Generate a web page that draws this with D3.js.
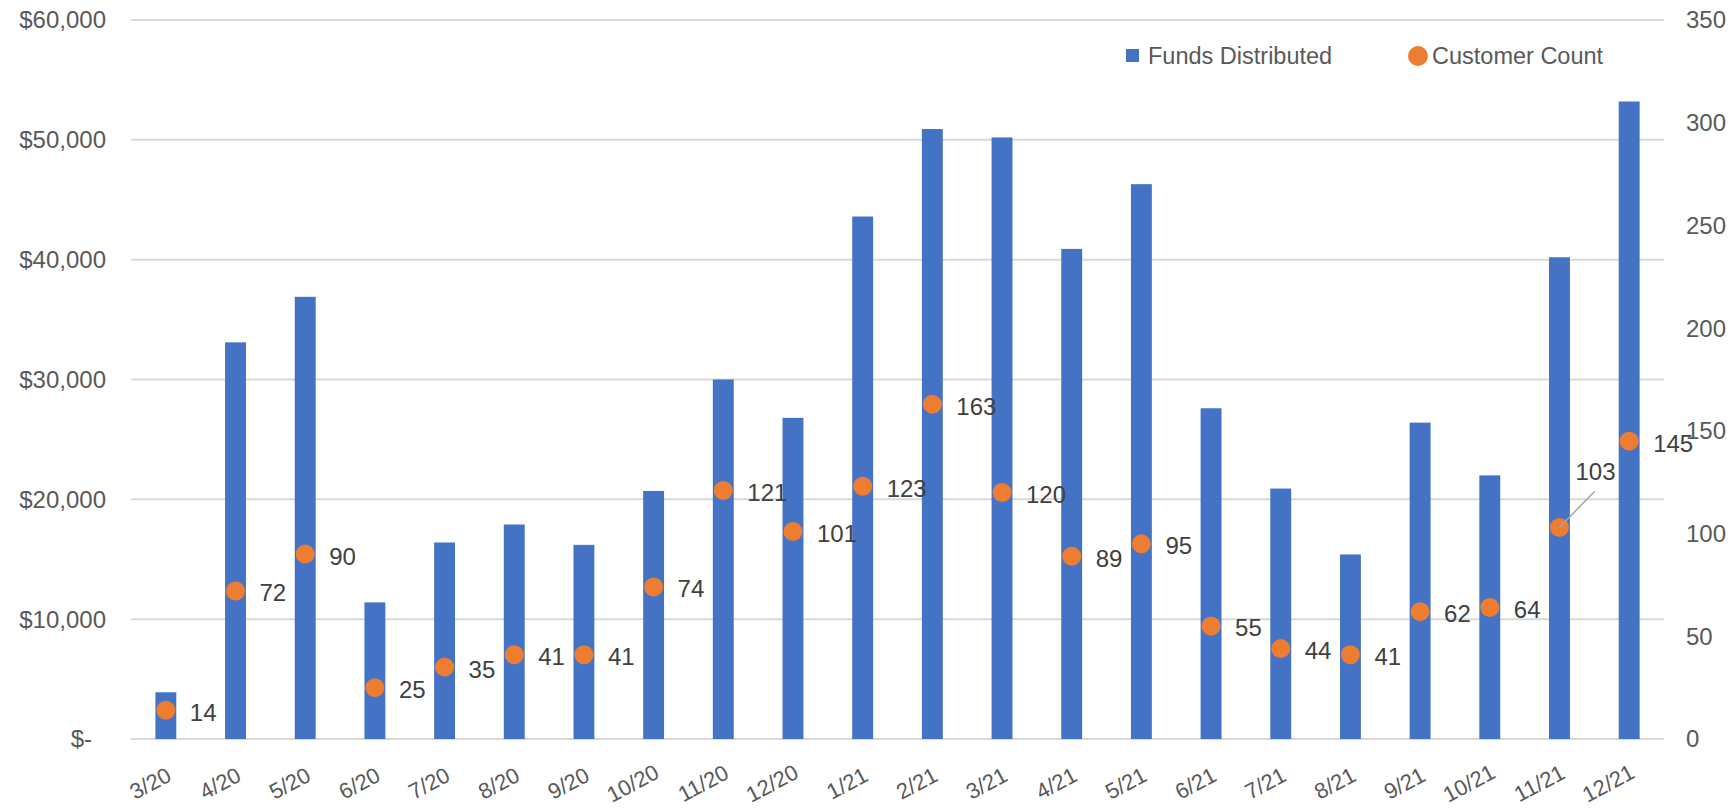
<!DOCTYPE html>
<html>
<head>
<meta charset="utf-8">
<script src="https://cdn.jsdelivr.net/npm/d3@7"></script>
<style>
  html, body { margin: 0; padding: 0; background: #ffffff; }
  svg { display: block; }
  text { font-family: "Liberation Sans", Arial, sans-serif; }
</style>
</head>
<body>
<svg id="chart" width="1734" height="808"></svg>
<script>
// Monthly figures, March 2020 – December 2021
const months = ["3/20","4/20","5/20","6/20","7/20","8/20","9/20","10/20","11/20","12/20",
                "1/21","2/21","3/21","4/21","5/21","6/21","7/21","8/21","9/21","10/21","11/21","12/21"];
const fundsDistributed = [3900, 33100, 36900, 11400, 16400, 17900, 16200, 20700, 30000, 26800,
                          43600, 50900, 50200, 40900, 46300, 27600, 20900, 15400, 26400, 22000, 40200, 53200];
const customerCount = [14, 72, 90, 25, 35, 41, 41, 74, 121, 101,
                       123, 163, 120, 89, 95, 55, 44, 41, 62, 64, 103, 145];
const fundsTicks = [0, 10000, 20000, 30000, 40000, 50000, 60000];
const countTicks = [0, 50, 100, 150, 200, 250, 300, 350];
const seriesNames = ["Funds Distributed", "Customer Count"];

const BLUE = "#4472C4", ORANGE = "#ED7D31", GRID = "#d9d9d9";
const AXIS_TEXT = "#595959", LABEL_TEXT = "#404040";

const svg = d3.select("#chart");
const plot = { left: 131, right: 1664, top: 20, bottom: 739 };

const x = d3.scaleBand().domain(months).range([plot.left, plot.right]).paddingInner(0.7).paddingOuter(0.35);
const yFunds = d3.scaleLinear().domain([0, 60000]).range([plot.bottom, plot.top]);
const yCount = d3.scaleLinear().domain([0, 350]).range([plot.bottom, plot.top]);
const cx = m => x(m) + x.bandwidth() / 2;

// horizontal gridlines on the funds axis
svg.append("g").selectAll("line").data(fundsTicks).join("line")
  .attr("x1", plot.left).attr("x2", plot.right)
  .attr("y1", d => yFunds(d)).attr("y2", d => yFunds(d))
  .attr("stroke", GRID).attr("stroke-width", 2);

// left axis: accounting-style currency labels ("$-" for zero sits inset)
const fmtMoney = d => d === 0 ? "$-" : "$" + d3.format(",")(d);
svg.append("g").selectAll("text").data(fundsTicks).join("text")
  .attr("x", d => d === 0 ? 92 : 106)
  .attr("y", d => yFunds(d))
  .attr("dy", "0.35em")
  .attr("text-anchor", "end")
  .attr("font-size", 24)
  .attr("fill", AXIS_TEXT)
  .text(fmtMoney);

// right axis: customer counts
svg.append("g").selectAll("text").data(countTicks).join("text")
  .attr("x", 1686)
  .attr("y", d => yCount(d))
  .attr("dy", "0.35em")
  .attr("text-anchor", "start")
  .attr("font-size", 24)
  .attr("fill", AXIS_TEXT)
  .text(d => d);

// month labels, slanted, each centred on a common line below the axis
const angle = -28, rad = angle * Math.PI / 180;
svg.append("g").selectAll("text").data(months).join("text")
  .attr("text-anchor", "middle")
  .attr("font-size", 22)
  .attr("fill", AXIS_TEXT)
  .text(m => m)
  .attr("transform", function (m) {
    const half = this.getComputedTextLength() / 2;
    const tx = cx(m) + 7 - half * Math.cos(rad);
    return `translate(${tx},${790}) rotate(${angle})`;
  });

// funds bars
svg.append("g").selectAll("rect").data(months).join("rect")
  .attr("x", m => x(m))
  .attr("width", x.bandwidth())
  .attr("y", (m, i) => yFunds(fundsDistributed[i]))
  .attr("height", (m, i) => plot.bottom - yFunds(fundsDistributed[i]))
  .attr("fill", BLUE);

// customer count markers
svg.append("g").selectAll("circle").data(months).join("circle")
  .attr("cx", m => cx(m))
  .attr("cy", (m, i) => yCount(customerCount[i]))
  .attr("r", 9.5)
  .attr("fill", ORANGE);

// data labels: to the right of each marker, one pulled up with a leader line
const liftedLabels = { "11/21": { dx: 36, dy: -47, lx: 35, ly: -36 } };
const labels = svg.append("g");
months.forEach((m, i) => {
  const px = cx(m), py = yCount(customerCount[i]);
  const lift = liftedLabels[m];
  if (lift) {
    labels.append("line")
      .attr("x1", px).attr("y1", py)
      .attr("x2", px + lift.lx).attr("y2", py + lift.ly)
      .attr("stroke", "#a6a6a6").attr("stroke-width", 1.5);
    labels.append("text")
      .attr("x", px + lift.dx).attr("y", py + lift.dy)
      .attr("text-anchor", "middle")
      .attr("font-size", 24).attr("fill", LABEL_TEXT)
      .text(customerCount[i]);
  } else {
    labels.append("text")
      .attr("x", px + 24).attr("y", py + 2)
      .attr("dy", "0.35em")
      .attr("font-size", 24).attr("fill", LABEL_TEXT)
      .text(customerCount[i]);
  }
});

// legend
const legend = svg.append("g");
legend.append("rect").attr("x", 1126).attr("y", 49).attr("width", 13).attr("height", 13).attr("fill", BLUE);
legend.append("text").attr("x", 1148).attr("y", 64).attr("font-size", 23.5).attr("fill", AXIS_TEXT).text(seriesNames[0]);
legend.append("circle").attr("cx", 1418).attr("cy", 56).attr("r", 10).attr("fill", ORANGE);
legend.append("text").attr("x", 1432).attr("y", 64).attr("font-size", 23.5).attr("fill", AXIS_TEXT).text(seriesNames[1]);
</script>
</body>
</html>
